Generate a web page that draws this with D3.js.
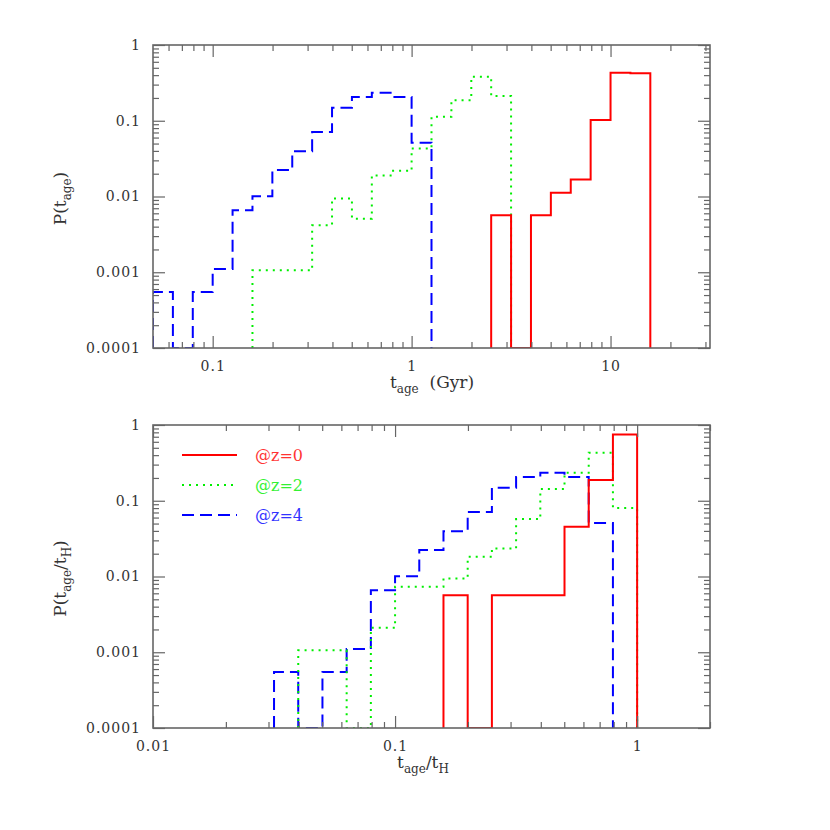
<!DOCTYPE html>
<html>
<head>
<meta charset="utf-8">
<script src="https://cdn.jsdelivr.net/npm/d3@7"></script>
<style>
  html, body { margin: 0; padding: 0; background: #fff; }
  svg { display: block; }
  text { font-family: "DejaVu Serif", "Liberation Serif", serif; fill: #333; }
</style>
</head>
<body>
<svg id="chart" width="830" height="830"></svg>
<script>
// ---------------- DATA ----------------
// Histograms binned in log10 space; each series: first bin lower edge (log10) + bin values.
const binWidthDex = 0.1;

// Top panel: P(t_age), t_age in Gyr
const topZ0Start = 0.4;
const topZ0 = [0.00566, 0, 0.00566, 0.0112, 0.0168, 0.102, 0.431, 0.423];
const topZ2Start = -0.8;
const topZ2 = [0.00106, 0.00106, 0.00106, 0.00418, 0.0094, 0.0051, 0.019, 0.0218, 0.043, 0.113, 0.186, 0.382, 0.212];
const topZ4Start = -1.3;
const topZ4 = [0.00055, 0, 0.00055, 0.0011, 0.0066, 0.0101, 0.0223, 0.0397, 0.0708, 0.149, 0.206, 0.234, 0.206, 0.0512];

// Bottom panel: P(t_age / t_H)
const botZ0Start = -0.8;
const botZ0 = [0.00566, 0, 0.00566, 0.00566, 0.00566, 0.0454, 0.1875, 0.752];
const botZ2Start = -1.4;
const botZ2 = [0.00106, 0.00106, 0, 0.0021, 0.0073, 0.0073, 0.0094, 0.0182, 0.0234, 0.0573, 0.143, 0.234, 0.431, 0.080];
const botZ4Start = -1.5;
const botZ4 = [0.00055, 0, 0.00055, 0.0011, 0.0066, 0.0101, 0.0223, 0.0397, 0.071, 0.148, 0.206, 0.235, 0.206, 0.0507];

// Axes
const topXDomain = [Math.pow(10, -1.3), Math.pow(10, 1.5)];
const botXDomain = [0.01, 2];
const yDomain = [0.0001, 1];
const topXTickLabels = ["0.1", "1", "10"];
const botXTickLabels = ["0.01", "0.1", "1"];
const yTickLabels = ["0.0001", "0.001", "0.01", "0.1", "1"];

const legendLabels = ["@z=0", "@z=2", "@z=4"];

// ---------------- STYLE ----------------
const colors = { z0: "#ff0000", z2: "#00ee00", z4: "#0000ff" };
const dashes = { z0: null, z2: "2,5", z4: "12,6" };
const frameColor = "#666";

const svg = d3.select("#chart");
svg.append("rect").attr("width", 830).attr("height", 830).attr("fill", "#fff");

// rich text: parts = [[text, isSub], ...]
function rich(t, parts) {
  let prevSub = false;
  parts.forEach(([s, isSub]) => {
    const sp = t.append("tspan").text(s);
    if (isSub && !prevSub) sp.attr("dy", 5);
    if (!isSub && prevSub) sp.attr("dy", -5);
    if (isSub) sp.style("font-size", "12px");
    prevSub = isSub;
  });
}

function drawPanel(cfg) {
  const { x, y, id } = cfg;
  const [x0, x1] = x.range();
  const [y0, y1] = y.range(); // y0 bottom, y1 top
  const g = svg.append("g");

  g.append("clipPath").attr("id", "clip" + id)
    .append("rect").attr("x", x0).attr("y", y1).attr("width", x1 - x0).attr("height", y0 - y1);

  // Series (step histograms)
  const line = d3.line().x(d => x(d[0])).y(d => y(Math.max(d[1], yDomain[0])));
  const lines = g.append("g").attr("clip-path", `url(#clip${id})`);
  cfg.series.forEach(s => {
    const pts = [];
    const e = i => Math.pow(10, s.start + i * binWidthDex);
    pts.push([e(0), 0]);
    s.values.forEach((v, i) => { pts.push([e(i), v]); pts.push([e(i + 1), v]); });
    pts.push([e(s.values.length), 0]);
    lines.append("path")
      .attr("d", line(pts))
      .attr("fill", "none")
      .attr("stroke", colors[s.key])
      .attr("stroke-width", 2)
      .attr("stroke-dasharray", dashes[s.key]);
  });

  // Ticks
  const isMajor = v => Math.abs(Math.log10(v) - Math.round(Math.log10(v))) < 1e-9;
  const xAll = x.ticks(20);
  const xMaj = xAll.filter(isMajor);
  const xMin = xAll.filter(v => !isMajor(v));
  const yAll = y.ticks(20);
  const yMaj = yAll.filter(isMajor);
  const yMin = yAll.filter(v => !isMajor(v));

  function addAxis(axis, transform, noText) {
    const a = g.append("g").attr("transform", transform).call(axis);
    a.select(".domain").remove();
    a.selectAll(".tick line").attr("stroke", frameColor).attr("stroke-width", 1.2);
    if (noText) a.selectAll(".tick text").remove();
    a.selectAll(".tick text")
      .attr("fill", "#333")
      .style("font-family", '"DejaVu Serif", serif')
      .style("font-size", "14px")
      .style("letter-spacing", "1px");
    return a;
  }
  const xFmt = v => cfg.xLabels[xMaj.indexOf(v)];
  const yFmt = v => yTickLabels[yMaj.indexOf(v)];

  addAxis(d3.axisBottom(x).tickValues(xMaj).tickSize(-12).tickPadding(13).tickFormat(xFmt), `translate(0,${y0})`);
  addAxis(d3.axisBottom(x).tickValues(xMin).tickSize(-6), `translate(0,${y0})`, true);
  addAxis(d3.axisTop(x).tickValues(xMaj).tickSize(-12), `translate(0,${y1})`, true);
  addAxis(d3.axisTop(x).tickValues(xMin).tickSize(-6), `translate(0,${y1})`, true);
  addAxis(d3.axisLeft(y).tickValues(yMaj).tickSize(-12).tickPadding(12).tickFormat(yFmt), `translate(${x0},0)`);
  addAxis(d3.axisLeft(y).tickValues(yMin).tickSize(-6), `translate(${x0},0)`, true);
  addAxis(d3.axisRight(y).tickValues(yMaj).tickSize(-12), `translate(${x1},0)`, true);
  addAxis(d3.axisRight(y).tickValues(yMin).tickSize(-6), `translate(${x1},0)`, true);

  // Frame
  g.append("rect").attr("x", x0).attr("y", y1).attr("width", x1 - x0).attr("height", y0 - y1)
    .attr("fill", "none").attr("stroke", frameColor).attr("stroke-width", 1.6);

  // X title
  const xt = g.append("text").attr("x", cfg.xTitleX).attr("y", y0 + 40)
    .attr("text-anchor", "middle").style("font-size", "17px");
  rich(xt, cfg.xTitle);

  // Y title
  const yt = g.append("text")
    .attr("transform", `translate(66,${(y0 + y1) / 2 + 2}) rotate(-90)`)
    .attr("text-anchor", "middle").style("font-size", "17px");
  rich(yt, cfg.yTitle);
  return g;
}

const topX = d3.scaleLog().domain(topXDomain).range([153, 710]);
const topY = d3.scaleLog().domain(yDomain).range([348, 45]);
drawPanel({
  id: "top", x: topX, y: topY, xLabels: topXTickLabels, xTitleX: 432,
  series: [
    { key: "z4", start: topZ4Start, values: topZ4 },
    { key: "z2", start: topZ2Start, values: topZ2 },
    { key: "z0", start: topZ0Start, values: topZ0 }
  ],
  xTitle: [["t", false], ["age", true], ["\u00A0\u00A0(Gyr)", false]],
  yTitle: [["P(t", false], ["age", true], [")", false]]
});

const botX = d3.scaleLog().domain(botXDomain).range([153, 710]);
const botY = d3.scaleLog().domain(yDomain).range([728, 425]);
const bot = drawPanel({
  id: "bot", x: botX, y: botY, xLabels: botXTickLabels, xTitleX: 423,
  series: [
    { key: "z4", start: botZ4Start, values: botZ4 },
    { key: "z2", start: botZ2Start, values: botZ2 },
    { key: "z0", start: botZ0Start, values: botZ0 }
  ],
  xTitle: [["t", false], ["age", true], ["/t", false], ["H", true]],
  yTitle: [["P(t", false], ["age", true], ["/t", false], ["H", true], [")", false]]
});

// Legend
const legKeys = ["z0", "z2", "z4"];
const legY = d3.scalePoint().domain(legKeys).range([455, 515]);
legKeys.forEach((k, i) => {
  bot.append("line").attr("x1", 182).attr("x2", 237).attr("y1", legY(k)).attr("y2", legY(k))
    .attr("stroke", colors[k]).attr("stroke-width", 2).attr("stroke-dasharray", dashes[k]);
  bot.append("text").attr("x", 255).attr("y", legY(k) + 5.5)
    .style("font-size", "16px").style("fill", colors[k]).style("opacity", 0.8)
    .text(legendLabels[i]);
});
</script>
</body>
</html>
